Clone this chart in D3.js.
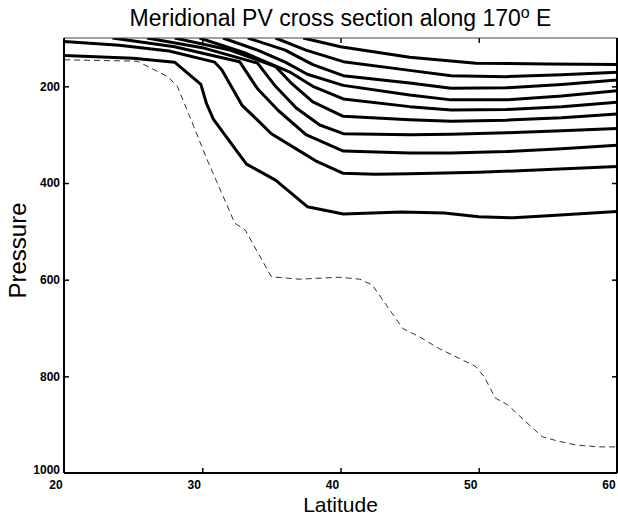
<!DOCTYPE html>
<html>
<head>
<meta charset="utf-8">
<script src="https://cdnjs.cloudflare.com/ajax/libs/d3/7.8.5/d3.min.js"></script>
<style>
  body { margin: 0; background: #fff; }
  text { font-family: "Liberation Sans", Arial, Helvetica, sans-serif; }
</style>
</head>
<body>
<div id="chart"></div>
<script>
var svgWidth = 618;
var svgHeight = 516;

var margin = { top: 38, right: 1, bottom: 43, left: 64 };
var width = svgWidth - margin.left - margin.right;
var height = svgHeight - margin.top - margin.bottom;

// tick values
var latTicks = [20, 30, 40, 50, 60];
var presTicks = [200, 400, 600, 800, 1000];

// PV contours, [latitude, pressure] pairs
var pv1 = [[37.3,100],[40,118],[45,140],[49.8,152],[55,154],[60,155]];
var pv2 = [[35.3,100],[37.5,125],[40.2,149],[45,167],[48,178],[52,180],[56,176],[60,171]];
var pv3 = [[33.3,100],[36,125],[38,155],[40.2,178],[45,193],[48,204],[52,203],[56,196],[60,187]];
var pv4 = [[31.5,100],[34,125],[36,150],[37.6,175],[40.2,198],[45,218],[48,228],[52,228],[56,220],[60,209]];
var pv5 = [[29.8,100],[33,130],[36.3,170],[38,200],[40.2,226],[45,242],[48,249],[52,248],[56,242],[60,233]];
var pv6 = [[28,100],[32,125],[35.3,159],[36.5,195],[38,232],[40.2,262],[45,269],[48,272],[52,270],[56,265],[60,257]];
var pv7 = [[26,100],[30,120],[34,152],[35.3,200],[36.8,245],[38.5,280],[40.2,298],[45,300],[48,299],[52,296],[56,292],[60,287]];
var pv8 = [[23.5,100],[28,118],[32.7,149],[34,205],[35.5,250],[37.5,300],[40.2,334],[45,338],[48,338],[52,335],[56,329],[60,322]];
var pv9 = [[20,107],[24,115],[27.6,127],[30.9,150],[31.4,165],[32.9,240],[34,270],[35,298],[37,333],[38.2,354],[40.2,380],[42.5,382],[45,381],[50,378],[55,372],[60,366]];
var pv10 = [[20,136],[25,142],[28,150],[29.9,196],[30.3,235],[30.8,268],[32.5,334],[33.2,361],[35.3,394],[37.6,449],[40.2,464],[44.4,460],[47.5,462],[50,470],[52.5,472],[55,468],[60,459]];

// dashed line
var dashed = [[20,145],[25.3,148],[27.5,180],[28.2,200],[29.2,270],[30.4,355],[31.0,394],[32.35,483],[33.1,497],[35,594],[37,599],[39.9,595],[41.4,599],[42.3,611],[43.4,656],[44.5,701],[45.7,718],[47.1,742],[48.6,763],[49.8,780],[50.4,801],[51.2,845],[52.1,859],[53.4,894],[54.6,925],[55.6,933],[57,942],[58.7,946],[60,946]];

var contours = [pv1, pv2, pv3, pv4, pv5, pv6, pv7, pv8, pv9, pv10];

var svg = d3.select("#chart")
  .append("svg")
  .attr("width", svgWidth)
  .attr("height", svgHeight);

var chartGroup = svg.append("g")
  .attr("transform", `translate(${margin.left}, ${margin.top})`);

var xScale = d3.scaleLinear().domain([20, 60]).range([0, width]);
var yScale = d3.scaleLinear().domain([100, 1000]).range([0, height]);

var line = d3.line()
  .x(d => xScale(d[0]))
  .y(d => yScale(d[1]));

// clip to plot box
svg.append("defs").append("clipPath").attr("id", "clip")
  .append("rect").attr("width", width).attr("height", height);

var plot = chartGroup.append("g").attr("clip-path", "url(#clip)");

plot.selectAll(".pv")
  .data(contours)
  .enter()
  .append("path")
  .attr("class", "pv")
  .attr("d", line)
  .attr("fill", "none")
  .attr("stroke", "#000")
  .attr("stroke-width", 3)
  .attr("stroke-linejoin", "round");

plot.append("path")
  .attr("d", line(dashed))
  .attr("fill", "none")
  .attr("stroke", "#333")
  .attr("stroke-width", 1)
  .attr("stroke-dasharray", "6,4");

// axes, ticks inward
var bottomAxis = d3.axisBottom(xScale).tickValues([30, 40, 50]).tickSize(-5).tickFormat("");
var topAxis = d3.axisTop(xScale).tickValues([30, 40, 50]).tickSize(-5).tickFormat("");
var leftAxis = d3.axisLeft(yScale).tickValues([200, 400, 600, 800]).tickSize(-5).tickFormat("");
var rightAxis = d3.axisRight(yScale).tickValues([200, 400, 600, 800]).tickSize(-5).tickFormat("");

chartGroup.append("g").attr("transform", `translate(0, ${height})`).call(bottomAxis);
chartGroup.append("g").call(topAxis);
chartGroup.append("g").call(leftAxis);
chartGroup.append("g").attr("transform", `translate(${width}, 0)`).call(rightAxis);

chartGroup.selectAll(".domain").remove();
chartGroup.selectAll(".tick line").attr("stroke", "#000").attr("stroke-width", 1.5);

// frame
chartGroup.append("line").attr("x1", 0).attr("x2", width).attr("y1", 0).attr("y2", 0)
  .attr("stroke", "#444").attr("stroke-width", 1);
chartGroup.append("line").attr("x1", 0).attr("x2", 0).attr("y1", 0).attr("y2", height)
  .attr("stroke", "#000").attr("stroke-width", 2);
chartGroup.append("line").attr("x1", 0).attr("x2", width).attr("y1", height).attr("y2", height)
  .attr("stroke", "#000").attr("stroke-width", 2);
chartGroup.append("line").attr("x1", width).attr("x2", width).attr("y1", 0).attr("y2", height)
  .attr("stroke", "#000").attr("stroke-width", 2);

// tick labels
chartGroup.selectAll(".xlab")
  .data(latTicks)
  .enter()
  .append("text")
  .attr("x", d => xScale(d) - 8)
  .attr("y", height + 16)
  .attr("text-anchor", "middle")
  .attr("font-size", "12px")
  .attr("font-weight", "bold")
  .text(d => d);

// the 1000 label sits a little above the corner so it clears the "20"
chartGroup.selectAll(".ylab")
  .data(presTicks)
  .enter()
  .append("text")
  .attr("x", -4)
  .attr("y", d => d === 1000 ? yScale(d) - 3 : yScale(d))
  .attr("dy", "0.35em")
  .attr("text-anchor", "end")
  .attr("font-size", "12px")
  .attr("font-weight", "bold")
  .text(d => d);

// axis titles
chartGroup.append("text")
  .attr("x", width / 2)
  .attr("y", height + 39)
  .attr("text-anchor", "middle")
  .attr("font-size", "21px")
  .text("Latitude");

chartGroup.append("text")
  .attr("transform", "rotate(-90)")
  .attr("x", -height / 2 + 5)
  .attr("y", -38)
  .attr("text-anchor", "middle")
  .attr("font-size", "24px")
  .text("Pressure");

// title with superscript degree
var title = svg.append("text")
  .attr("x", margin.left + width / 2)
  .attr("y", 26)
  .attr("text-anchor", "middle")
  .attr("font-size", "23px");
title.append("tspan").text("Meridional PV cross section along 170");
title.append("tspan").attr("dy", -8).attr("font-size", "16px").text("o");
title.append("tspan").attr("dy", 8).text(" E");
</script>
</body>
</html>
